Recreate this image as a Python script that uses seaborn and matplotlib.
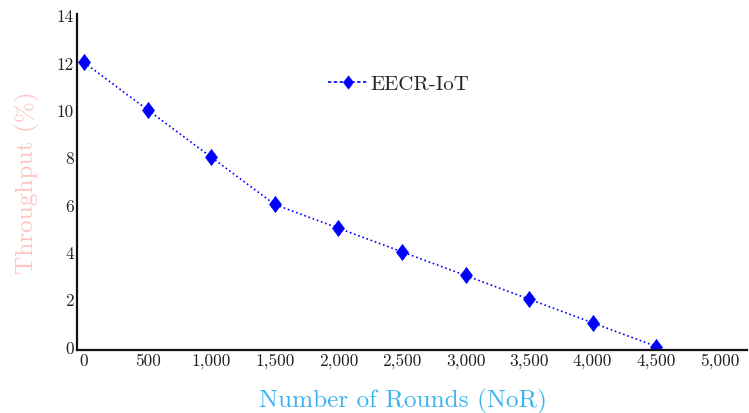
import matplotlib
matplotlib.use("Agg")
import matplotlib.pyplot as plt
import seaborn as sns
import pandas as pd

rounds = [0, 500, 1000, 1500, 2000, 2500, 3000, 3500, 4000, 4500]
throughput = [12, 10, 8, 6, 5, 4, 3, 2, 1, 0]
series_name = "EECR-IoT"
x_ticks = [0, 500, 1000, 1500, 2000, 2500, 3000, 3500, 4000, 4500, 5000]
y_ticks = [0, 2, 4, 6, 8, 10, 12, 14]

sns.set_style("white")
plt.rcParams['font.family'] = ['cmr10', 'DejaVu Serif']
plt.rcParams['axes.unicode_minus'] = False

df = pd.DataFrame({"NoR": rounds, "Throughput": throughput, "series": series_name})

diamond = [(0, 1), (0.75, 0), (0, -1), (-0.75, 0), (0, 1)]

fig = plt.figure(figsize=(7.49, 4.14), dpi=100)
ax = fig.add_axes([0.1028, 0.152, 0.894, 0.812])

sns.lineplot(data=df, x="NoR", y="Throughput", hue="series", palette=["#0000ff"],
             marker=diamond, markersize=11.5, linestyle=":", linewidth=1.2,
             markeredgecolor="#0000ff", markeredgewidth=0.5, ax=ax)

ax.set_xlim(-55, 5210)
ax.set_ylim(-0.15, 14.05)
ax.set_xticks(x_ticks)
ax.set_xticklabels([f"{v:,}" for v in x_ticks])
ax.set_yticks(y_ticks)
ax.set_yticklabels([str(v) for v in y_ticks])
ax.tick_params(axis='both', length=0, labelsize=12.5, colors="#222222", pad=2)

for s in ["top", "right"]:
    ax.spines[s].set_visible(False)
for s in ["left", "bottom"]:
    ax.spines[s].set_color("#111111")
    ax.spines[s].set_linewidth(1.6)

ax.set_xlabel("Number of Rounds (NoR)", fontsize=18.2, color="#3db4f2")
ax.xaxis.set_label_coords(0.487, -0.113)
ax.set_ylabel("Throughput (%)", fontsize=18.2, color="#ffc4c4", labelpad=12)

leg = ax.legend(loc="upper left", bbox_to_anchor=(0.347, 0.875), frameon=False,
                fontsize=15, handlelength=1.9, handletextpad=0.15)
for h in leg.get_lines():
    h.set_linestyle((0, (2, 1.5)))
    h.set_markersize(9.5)

fig.savefig("out.png", dpi=100)
